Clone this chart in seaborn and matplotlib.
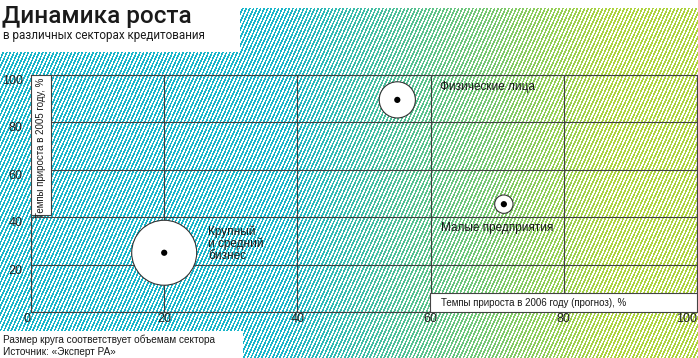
import numpy as np
import pandas as pd
import matplotlib
matplotlib.use("Agg")
import matplotlib.pyplot as plt
from matplotlib.patches import Rectangle
from matplotlib import font_manager
import seaborn as sns

# ---------------- data ----------------
sectors = ["Крупный\nи средний\nбизнес", "Физические лица", "Малые предприятия"]
growth_2006 = [20, 55, 71]        # x, %
growth_2005 = [25, 89.5, 45.5]    # y, %
volume = [100, 31, 8]             # relative sector volume (circle area)
x_ticks = [0, 20, 40, 60, 80, 100]
y_ticks = [0, 20, 40, 60, 80, 100]
x_tick_labels = ["0", "20", "40", "60", "80", "100"]
y_tick_labels = ["", "20", "40", "60", "80", "100"]
title = "Динамика роста"
subtitle = "в различных секторах кредитования"
x_label = "Темпы прироста в 2006 году (прогноз), %"
y_label = "Темпы прироста в 2005 году, %"
footer = ["Размер круга соответствует объемам сектора", "Источник: «Эксперт РА»"]

df = pd.DataFrame({"sector": sectors, "x": growth_2006, "y": growth_2005, "volume": volume})

# ---------------- fonts ----------------
sns.set_theme(style="white")
avail = {f.name for f in font_manager.fontManager.ttflist}
narrow = "Liberation Sans Narrow" if "Liberation Sans Narrow" in avail else (
    "Roboto" if "Roboto" in avail else "Liberation Sans")
plt.rcParams["font.family"] = ["Liberation Sans", "DejaVu Sans"]

W, H = 698, 358
fig = plt.figure(figsize=(W / 100, H / 100), dpi=100)

# ---------------- hatched gradient background ----------------
bg = fig.add_axes([0, 0, 1, 1], zorder=0)
rows, cols = np.mgrid[0:H, 0:W]
stripe = ((cols + 0.45 * rows) % 3.6) < 1.8
t = np.clip((cols - 280) / 330.0, 0, 1)[..., None]
teal = np.array([0.10, 0.71, 0.79])
green = np.array([0.68, 0.83, 0.24])
col = teal * (1 - t) + green * t
img = np.where(stripe[..., None], col, 1.0)
bg.imshow(img, interpolation="nearest", aspect="auto", extent=(0, 1, 0, 1))
bg.set_xlim(0, 1); bg.set_ylim(0, 1); bg.axis("off")


def px_rect(x0, y0, x1, y1, **kw):
    return Rectangle((x0 / W, 1 - y1 / H), (x1 - x0) / W, (y1 - y0) / H,
                     transform=bg.transAxes, **kw)


bg.add_patch(px_rect(0, 0, W, 8, facecolor="white", edgecolor="none"))
bg.add_patch(px_rect(0, 0, 240, 52, facecolor="white", edgecolor="none"))
bg.add_patch(px_rect(0, 331, 243, H, facecolor="white", edgecolor="none"))

# titles / footer
fig.text(2 / W, 1 - 23 / H, title, family=[narrow, "DejaVu Sans"], fontsize=17.5,
         fontweight="medium", color="#1a1a1a", ha="left", va="baseline")
fig.text(3 / W, 1 - 39 / H, subtitle, family=[narrow, "DejaVu Sans"], fontsize=8.4,
         color="#1a1a1a", ha="left", va="baseline")
fig.text(3 / W, 1 - 340 / H, footer[0], fontsize=7.2, color="#1a1a1a", ha="left", va="center")
fig.text(3 / W, 1 - 352 / H, footer[1], fontsize=7.2, color="#1a1a1a", ha="left", va="center")

# ---------------- main axes ----------------
ax = fig.add_axes([31 / W, 46 / H, 666 / W, 237 / H], zorder=2)
ax.patch.set_alpha(0)
ax.set_xlim(0, 100); ax.set_ylim(0, 100)
ax.set_xticks(x_ticks); ax.set_yticks(y_ticks)
ax.set_xticklabels(x_tick_labels); ax.set_yticklabels(y_tick_labels)
ax.tick_params(length=0, labelsize=9, colors="#222222")
ax.tick_params(axis="y", pad=6)
ax.tick_params(axis="x", pad=1)
for lab in ax.get_yticklabels():
    lab.set_verticalalignment("top")
xl = ax.get_xticklabels()
xl[0].set_horizontalalignment("right")
xl[-1].set_horizontalalignment("right")
ax.grid(True, color="#444444", linewidth=0.8)
ax.set_axisbelow(True)
for s in ax.spines.values():
    s.set_visible(True); s.set_color("#444444"); s.set_linewidth(0.8)

sns.scatterplot(data=df, x="x", y="y", size="volume", sizes=(0, 2190), size_norm=(0, 100),
                color="white", edgecolor="#333333", linewidth=0.8, legend=False,
                ax=ax, zorder=3)
sns.scatterplot(data=df, x="x", y="y", s=20, color="black", edgecolor="none",
                legend=False, ax=ax, zorder=4)
ax.set_xlabel(""); ax.set_ylabel("")

# labels next to bubbles (offsets in points)
offsets = [(31.7, 19.4, "top"), (31.0, 9.4, "center"), (-45.4, -17.3, "center")]
for (_, r), (dx, dy, va) in zip(df.iterrows(), offsets):
    ax.annotate(r["sector"], (r["x"], r["y"]), xytext=(dx, dy), textcoords="offset points",
                ha="left", va=va, fontsize=8.5, color="#1a1a1a", linespacing=0.95, zorder=5)

# axis label boxes
ax.add_patch(Rectangle((0, (312 - 215) / 237), 20 / 666, 1 - (312 - 215) / 237,
                       transform=ax.transAxes, facecolor="white", edgecolor="#444444",
                       linewidth=0.8, zorder=4))
ax.text(10 / 666, 1 - 3 / 237, y_label, transform=ax.transAxes, rotation=90,
        ha="center", va="top", fontsize=7, color="#1a1a1a", zorder=5)
ax.add_patch(Rectangle(((430 - 31) / 666, 0), 1 - (430 - 31) / 666, 19 / 237,
                       transform=ax.transAxes, facecolor="white", edgecolor="#444444",
                       linewidth=0.8, zorder=4))
ax.text((441 - 31) / 666, 9.5 / 237, x_label, transform=ax.transAxes,
        ha="left", va="center", fontsize=7, color="#1a1a1a", zorder=5)

fig.savefig("out.png", dpi=100)
